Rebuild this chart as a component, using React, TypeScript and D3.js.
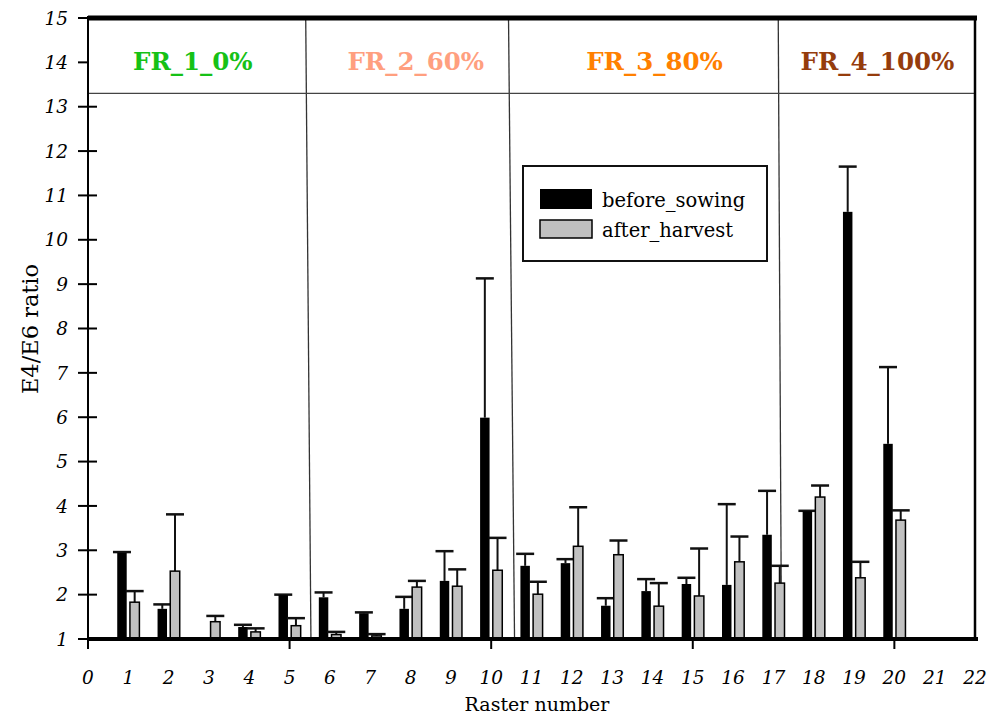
import React from "react";
import * as d3 from "d3";

const rasters = [1, 2, 3, 4, 5, 6, 7, 8, 9, 10, 11, 12, 13, 14, 15, 16, 17, 18, 19, 20];
const beforeSowing: (number | null)[] = [2.94, 1.68, null, 1.27, 1.99, 1.94, 1.58, 1.68, 2.31, 5.99, 2.65, 2.71, 1.75, 2.08, 2.24, 2.22, 3.35, 3.88, 10.63, 5.40];
const beforeErr: (number | null)[] = [0.02, 0.10, null, 0.05, 0.01, 0.11, 0.02, 0.27, 0.67, 3.14, 0.27, 0.09, 0.17, 0.27, 0.14, 1.82, 0.99, 0.01, 1.02, 1.73];
const afterHarvest = [1.83, 2.53, 1.39, 1.16, 1.30, 1.10, 1.07, 2.17, 2.19, 2.55, 2.01, 3.09, 2.90, 1.74, 1.97, 2.74, 2.26, 4.20, 2.38, 3.68];
const afterErr = [0.25, 1.28, 0.13, 0.08, 0.17, 0.06, 0.04, 0.14, 0.38, 0.73, 0.28, 0.88, 0.32, 0.52, 1.07, 0.57, 0.39, 0.26, 0.36, 0.22];

const yTicks = d3.range(1, 16);
const xTickLabels = d3.range(0, 23);
const xMajorTicks = [0, 5, 10, 15, 20];

const groupNames = ["FR_1_0%", "FR_2_60%", "FR_3_80%", "FR_4_100%"];
const groupColors = ["#16c116", "#ff9f7f", "#ff8000", "#953c0c"];
const groupLabelX = [2.6, 8.13, 14.05, 19.58];
const separatorsTop = [5.4, 10.43, 17.12];
const separatorsBottom = [5.53, 10.58, 17.2];
const headerLine = 13.3;

const seriesNames = ["before_sowing", "after_harvest"];

export default function App() {
  const W = 995, H = 718;
  const x = d3.scaleLinear().domain([0, 22]).range([88, 975]);
  const y = d3.scaleLinear().domain([1, 15]).range([639, 18]);
  const unit = x(1) - x(0);
  const bw = 0.235 * unit;
  const capW = 18;
  const serif = "'DejaVu Serif', serif";

  return (
    <svg width={W} height={H} style={{ position: "absolute", left: 0, top: 0, background: "#fff" }} fontFamily={serif}>
      {separatorsTop.map((s, i) => (
        <line key={"sep" + i} x1={x(s)} x2={x(separatorsBottom[i])} y1={y(15)} y2={y(1) + 2} stroke="#333" strokeWidth={1.3} />
      ))}
      <line x1={x(0)} x2={x(22)} y1={y(headerLine)} y2={y(headerLine)} stroke="#444" strokeWidth={1.3} />
      {groupNames.map((g, i) => (
        <text key={g} x={x(groupLabelX[i])} y={70} textAnchor="middle" fontWeight="bold" fontSize={24.5} fill={groupColors[i]}>{g}</text>
      ))}
      {rasters.map((r, i) => {
        const b = beforeSowing[i];
        const be = beforeErr[i];
        const a = afterHarvest[i];
        const ae = afterErr[i];
        const bx = x(r - 0.275);
        const ax = x(r + 0.04);
        return (
          <g key={"r" + r}>
            {b != null && (
              <g>
                <line x1={bx + bw / 2} x2={bx + bw / 2} y1={y(b)} y2={y(b + (be || 0))} stroke="#111" strokeWidth={2} />
                <line x1={bx + bw / 2 - capW / 2} x2={bx + bw / 2 + capW / 2} y1={y(b + (be || 0))} y2={y(b + (be || 0))} stroke="#111" strokeWidth={2.5} />
                <rect x={bx} y={y(b)} width={bw} height={y(1) - y(b)} fill="#000" />
              </g>
            )}
            <line x1={ax + bw / 2} x2={ax + bw / 2} y1={y(a)} y2={y(a + ae)} stroke="#111" strokeWidth={2} />
            <line x1={ax + bw / 2 - capW / 2} x2={ax + bw / 2 + capW / 2} y1={y(a + ae)} y2={y(a + ae)} stroke="#111" strokeWidth={2.5} />
            <rect x={ax} y={y(a)} width={bw} height={y(1) - y(a)} fill="#c0c0c0" stroke="#000" strokeWidth={1.5} />
          </g>
        );
      })}
      <line x1={x(0)} x2={x(22) + 2} y1={y(15)} y2={y(15)} stroke="#000" strokeWidth={5} />
      <line x1={x(22)} x2={x(22)} y1={y(15)} y2={y(1)} stroke="#000" strokeWidth={2.5} />
      <line x1={x(0)} x2={x(0)} y1={y(15) - 2} y2={y(1) + 2} stroke="#000" strokeWidth={2} />
      <line x1={x(0)} x2={x(22) + 3} y1={y(1)} y2={y(1)} stroke="#000" strokeWidth={4} />
      {yTicks.map((t) => (
        <g key={"yt" + t}>
          <line x1={78} x2={t <= 13 ? 97 : 88} y1={y(t)} y2={y(t)} stroke="#000" strokeWidth={2} />
          <text x={68} y={y(t)} dy="0.36em" textAnchor="end" fontStyle="italic" fontSize={18.5} fill="#000">{t}</text>
        </g>
      ))}
      {xMajorTicks.map((t) => (
        <line key={"xt" + t} x1={x(t)} x2={x(t)} y1={y(1)} y2={y(1) + 10} stroke="#000" strokeWidth={2} />
      ))}
      {xTickLabels.map((t) => (
        <text key={"xl" + t} x={x(t)} y={684} textAnchor="middle" fontStyle="italic" fontSize={18.5} fill="#000">{t}</text>
      ))}
      <text x={537} y={711} textAnchor="middle" fontSize={19} fill="#000">Raster number</text>
      <text transform="translate(38,329) rotate(-90)" textAnchor="middle" fontSize={22.5} fill="#000">E4/E6 ratio</text>
      <rect x={523} y={166} width={244} height={95} fill="#fff" stroke="#111" strokeWidth={2} />
      <rect x={540} y={189} width={52} height={20} fill="#000" />
      <rect x={540} y={220} width={52} height={18} fill="#c0c0c0" stroke="#000" strokeWidth={1.5} />
      <text x={602} y={207} fontSize={19.5} fill="#000">{seriesNames[0]}</text>
      <text x={602} y={237} fontSize={19.5} fill="#000">{seriesNames[1]}</text>
    </svg>
  );
}
